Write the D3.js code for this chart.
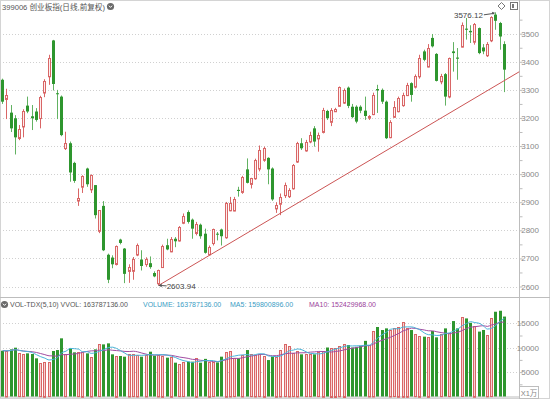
<!DOCTYPE html>
<html>
  <head>
    <meta charset="utf-8">
    <title>399006 创业板指</title>
    <script src="https://d3js.org/d3.v7.min.js"></script>
    <style>
      body {
        margin: 0;
        background-color: white;
      }
      svg text {
        font-family: "Liberation Sans", Arial, "Noto Sans CJK SC", sans-serif;
      }
    </style>
  </head>
  <body>
    <script>
      // daily candles, oldest first
      const openPrices = [3336, 3268, 3219, 3199, 3128, 3171, 3244, 3206, 3223, 3199,
        3292, 3348, 3476, 3288, 3276, 3092, 3110, 3040, 2905, 2955,
        3020, 2945, 2961, 2798, 2887, 2713, 2703, 2679, 2767, 2735,
        2657, 2657, 2713, 2696, 2681, 2683, 2648, 2610, 2669, 2747,
        2726, 2770, 2764, 2826, 2865, 2838, 2792, 2820, 2788, 2714,
        2753, 2788, 2803, 2776, 2872, 2872, 2944, 2937, 3017, 2964,
        2985, 3020, 3050, 3058, 3020, 2878, 2895, 2925, 2921, 2949,
        3044, 3110, 3086, 3116, 3163, 3127, 3151, 3225, 3187, 3225,
        3243, 3255, 3308, 3240, 3240, 3240, 3226, 3201, 3214, 3303,
        3300, 3258, 3133, 3205, 3223, 3246, 3282, 3324, 3312, 3348,
        3437, 3383, 3485, 3428, 3332, 3356, 3276, 3437, 3415, 3455,
        3518, 3510, 3472, 3520, 3451, 3423, 3475, 3568, 3538, 3463];
      const highPrices = [3340, 3304, 3246, 3210, 3175, 3231, 3276, 3246, 3235, 3279,
        3338, 3425, 3478, 3300, 3280, 3151, 3116, 3044, 2949, 2996,
        3023, 2999, 2961, 2872, 2904, 2717, 2711, 2746, 2770, 2737,
        2679, 2705, 2753, 2729, 2704, 2707, 2654, 2660, 2749, 2770,
        2776, 2776, 2815, 2860, 2871, 2842, 2830, 2824, 2806, 2746,
        2806, 2794, 2806, 2901, 2919, 2919, 2955, 2994, 3056, 2987,
        3055, 3102, 3098, 3060, 3024, 2900, 2931, 2970, 2950, 3036,
        3115, 3128, 3122, 3151, 3171, 3148, 3236, 3229, 3235, 3236,
        3312, 3305, 3312, 3250, 3245, 3245, 3276, 3210, 3290, 3318,
        3305, 3262, 3192, 3260, 3276, 3290, 3325, 3327, 3355, 3425,
        3443, 3463, 3499, 3431, 3357, 3360, 3415, 3470, 3449, 3540,
        3556, 3530, 3538, 3522, 3463, 3470, 3562, 3576.12, 3542, 3473];
      const lowPrices = [3250, 3196, 3150, 3070, 3121, 3131, 3217, 3157, 3187, 3163,
        3274, 3318, 3298, 3196, 3135, 3086, 2973, 2969, 2887, 2933,
        2955, 2933, 2842, 2790, 2726, 2612, 2665, 2675, 2750, 2612,
        2613, 2624, 2708, 2657, 2670, 2663, 2633, 2603.94, 2667, 2729,
        2722, 2740, 2760, 2822, 2824, 2770, 2782, 2770, 2717, 2711,
        2746, 2764, 2746, 2770, 2868, 2868, 2920, 2930, 2967, 2949,
        2980, 3010, 3044, 2964, 2905, 2862, 2854, 2915, 2915, 2945,
        3040, 3086, 3080, 3110, 3098, 3080, 3145, 3193, 3171, 3222,
        3240, 3250, 3235, 3199, 3181, 3217, 3193, 3193, 3210, 3218,
        3250, 3125, 3128, 3201, 3220, 3240, 3278, 3258, 3305, 3340,
        3402, 3380, 3451, 3330, 3320, 3244, 3270, 3365, 3336, 3451,
        3479, 3467, 3461, 3427, 3427, 3417, 3470, 3514, 3443, 3292];
      const closePrices = [3258, 3282, 3163, 3131, 3160, 3226, 3223, 3199, 3193, 3274,
        3333, 3413, 3321, 3286, 3139, 3110, 3006, 2976, 2914, 2993,
        2964, 2996, 2854, 2872, 2729, 2624, 2679, 2743, 2755, 2645,
        2671, 2699, 2747, 2673, 2699, 2669, 2636, 2657, 2744, 2732,
        2770, 2761, 2812, 2850, 2830, 2806, 2824, 2779, 2720, 2740,
        2803, 2785, 2779, 2898, 2898, 2913, 2940, 2990, 2969, 2985,
        3050, 3086, 3092, 3017, 2910, 2890, 2919, 2961, 2943, 3032,
        3110, 3092, 3116, 3139, 3116, 3139, 3229, 3199, 3229, 3233,
        3310, 3300, 3243, 3203, 3187, 3226, 3207, 3207, 3282, 3298,
        3258, 3128, 3187, 3240, 3270, 3282, 3318, 3282, 3350, 3413,
        3407, 3449, 3455, 3332, 3351, 3276, 3413, 3431, 3411, 3532,
        3514, 3505, 3535, 3431, 3437, 3463, 3558, 3546, 3490, 3372];
      // volume in units of 万 (x10000)
      const volumes = [9380, 9320, 9660, 10000, 8840, 8640, 8840, 8710, 7820, 6800,
        7130, 6990, 9320, 9520, 11920, 8640, 9860, 9050, 9050, 9180,
        8840, 8090, 9660, 10680, 10680, 10890, 8640, 8370, 8300, 8160,
        8710, 8640, 8500, 8160, 8500, 9180, 8370, 8500, 8370, 7960,
        8160, 6930, 6590, 6990, 7130, 7130, 7960, 6930, 7710, 7130,
        6990, 6990, 8160, 9180, 9320, 7820, 7820, 8500, 9520, 8640,
        8500, 8640, 8370, 7470, 8160, 8160, 9520, 10690, 10340, 8850,
        9320, 8640, 8640, 8640, 8640, 9050, 9380, 10040, 10040, 10040,
        10310, 10860, 10550, 10040, 10180, 10380, 11400, 10550, 13420, 14240,
        13620, 13960, 13620, 13960, 14300, 15330, 14100, 13620, 12740, 12460,
        12260, 12260, 13420, 12120, 12740, 13960, 12940, 15460, 13960, 16190,
        16000, 15100, 14500, 13300, 13630, 12571, 16010, 17370, 17570, 16379];

      const priceTicks = [2600, 2700, 2800, 2900, 3000, 3100, 3200, 3300, 3400, 3500];
      const volumeTicks = [5000, 10000, 15000];
      const highIndex = 117;
      const lowIndex = 37;
      // trend line drawn through the low and a point near the last candle
      const trendPoints = [[37, 2603.94], [119, 3333]];

      const titleText = '399006 创业板指(日线,前复权)';
      const volTitle = 'VOL-TDX(5,10) VVOL: 163787136.00';
      const volLegend = [
        {label: 'VOLUME: 163787136.00', x: 143, color: '#3a9cc4'},
        {label: 'MA5: 159800896.00', x: 230, color: '#3a9cc4'},
        {label: 'MA10: 152429968.00', x: 309, color: '#9b3f9b'}
      ];

      const w = 550;
      const h = 399;
      const plotRight = 519.5;
      const priceBottom = 297.5;
      const volBottom = 396.5;

      const upColor = '#d96666';
      const upFill = '#fdeeee';
      const upVolFill = '#f6d2d2';
      const downColor = '#2e962e';
      const downWick = '#62b262';
      const gridColor = '#d0d0d0';
      const axisColor = '#bdbdbd';
      const labelColor = '#888';

      const N = closePrices.length;
      const candles = d3.range(N).map(i => ({
        i: i,
        open: openPrices[i],
        high: highPrices[i],
        low: lowPrices[i],
        close: closePrices[i],
        vol: volumes[i],
        up: closePrices[i] >= openPrices[i]
      }));

      const xScale = d3.scaleBand()
                       .domain(d3.range(N))
                       .range([0.6, 506.4]);
      const cx = i => xScale(i) + xScale.bandwidth() / 2;
      const px = i => Math.round(cx(i) - 1.5); // left pixel of a 3px body

      const yScale = d3.scaleLinear()
                       .domain([2600, 3500])
                       .range([286.5, 33.7]);

      const vScale = d3.scaleLinear()
                       .domain([0, 15000])
                       .range([volBottom, 323.3]);

      const svg = d3.select('body')
                    .append('svg')
                    .attr('width', w)
                    .attr('height', h);

      svg.append('clipPath')
         .attr('id', 'price-clip')
         .append('rect')
         .attr('x', 0).attr('y', 0)
         .attr('width', plotRight).attr('height', priceBottom);

      // grid lines
      svg.append('g')
         .selectAll('line')
         .data(priceTicks)
         .enter()
         .append('line')
         .attr('x1', 0)
         .attr('x2', plotRight)
         .attr('y1', d => Math.round(yScale(d)) + 0.5)
         .attr('y2', d => Math.round(yScale(d)) + 0.5)
         .attr('stroke', gridColor)
         .attr('stroke-dasharray', '1,2');

      svg.append('g')
         .selectAll('line')
         .data(volumeTicks)
         .enter()
         .append('line')
         .attr('x1', 0)
         .attr('x2', plotRight)
         .attr('y1', d => Math.round(vScale(d)) + 0.5)
         .attr('y2', d => Math.round(vScale(d)) + 0.5)
         .attr('stroke', gridColor)
         .attr('stroke-dasharray', '1,2');

      // frame
      svg.append('rect')
         .attr('x', 0.5).attr('y', 0.5)
         .attr('width', w - 1).attr('height', h - 1)
         .attr('fill', 'none')
         .attr('stroke', '#d4d4d4');
      svg.append('line')
         .attr('x1', plotRight).attr('x2', plotRight)
         .attr('y1', 0).attr('y2', h)
         .attr('stroke', axisColor);
      svg.append('line')
         .attr('x1', 0).attr('x2', w)
         .attr('y1', priceBottom).attr('y2', priceBottom)
         .attr('stroke', axisColor);
      svg.append('line')
         .attr('x1', 0).attr('x2', plotRight)
         .attr('y1', volBottom + 0.5).attr('y2', volBottom + 0.5)
         .attr('stroke', axisColor);

      // right price axis
      const yAxis = d3.axisRight(yScale)
                      .tickValues(d3.range(2600, 3551, 50))
                      .tickSize(3)
                      .tickFormat(d => d % 100 === 0 ? d : '');
      const yAxisG = svg.append('g')
                        .attr('transform', `translate(${plotRight}, 0)`)
                        .call(yAxis);
      yAxisG.select('.domain').remove();
      yAxisG.selectAll('line').attr('stroke', axisColor);
      yAxisG.selectAll('text')
            .attr('x', 19.5)
            .attr('text-anchor', 'end')
            .attr('fill', labelColor)
            .style('font-size', '8px');

      const vAxis = d3.axisRight(vScale)
                      .tickValues([2500, 5000, 7500, 10000, 12500, 15000])
                      .tickSize(3)
                      .tickFormat(d => d % 5000 === 0 ? d : '');
      const vAxisG = svg.append('g')
                        .attr('transform', `translate(${plotRight}, 0)`)
                        .call(vAxis);
      vAxisG.select('.domain').remove();
      vAxisG.selectAll('line').attr('stroke', axisColor);
      vAxisG.selectAll('text')
            .attr('x', 19.5)
            .attr('text-anchor', 'end')
            .attr('fill', labelColor)
            .style('font-size', '8px');

      // candles
      const priceG = svg.append('g').attr('clip-path', 'url(#price-clip)');

      priceG.selectAll('.wick')
            .data(candles)
            .enter()
            .append('line')
            .attr('class', 'wick')
            .attr('x1', d => px(d.i) + 1.5)
            .attr('x2', d => px(d.i) + 1.5)
            .attr('y1', d => yScale(d.high))
            .attr('y2', d => yScale(d.low))
            .attr('stroke', d => d.up ? upColor : downWick);

      priceG.selectAll('.body')
            .data(candles)
            .enter()
            .append('rect')
            .attr('class', 'body')
            .attr('x', d => d.up ? px(d.i) + 0.5 : px(d.i))
            .attr('width', d => d.up ? 2 : 3)
            .attr('y', d => {
              const top = yScale(Math.max(d.open, d.close));
              return d.up ? Math.round(top) + 0.5 : top;
            })
            .attr('height', d => Math.max(1, Math.abs(yScale(d.open) - yScale(d.close))))
            .attr('fill', d => d.up ? upFill : downColor)
            .attr('stroke', d => d.up ? upColor : 'none');

      // trend line extended to the axis
      const tx0 = cx(trendPoints[0][0]);
      const ty0 = yScale(trendPoints[0][1]);
      const slope = (yScale(trendPoints[1][1]) - ty0) / (cx(trendPoints[1][0]) - tx0);
      priceG.append('line')
            .attr('x1', tx0)
            .attr('y1', ty0)
            .attr('x2', plotRight)
            .attr('y2', ty0 + slope * (plotRight - tx0))
            .attr('stroke', '#cc5555')
            .attr('stroke-width', 1);

      // high / low markers
      const hx = cx(highIndex);
      const hy = yScale(highPrices[highIndex]);
      svg.append('line')
         .attr('x1', hx - 12).attr('y1', hy + 2.5)
         .attr('x2', hx - 1.5).attr('y2', hy + 1)
         .attr('stroke', '#555');
      svg.append('path')
         .attr('d', `M${hx - 1},${hy + 0.5} l-3,-1 l1,3 z`)
         .attr('fill', '#555');
      svg.append('text')
         .attr('x', hx - 13)
         .attr('y', hy + 5.5)
         .attr('text-anchor', 'end')
         .attr('fill', '#444')
         .style('font-size', '8px')
         .text(highPrices[highIndex].toFixed(2));

      const lx = cx(lowIndex);
      const ly = yScale(lowPrices[lowIndex]);
      svg.append('line')
         .attr('x1', lx).attr('y1', ly)
         .attr('x2', lx + 8).attr('y2', ly + 0.5)
         .attr('stroke', '#555');
      svg.append('path')
         .attr('d', `M${lx},${ly} l3,-1.8 l0,3.6 z`)
         .attr('fill', '#555');
      svg.append('text')
         .attr('x', lx + 8)
         .attr('y', ly + 3.5)
         .attr('fill', '#444')
         .style('font-size', '8px')
         .text(lowPrices[lowIndex].toFixed(2));

      // volume bars
      const volG = svg.append('g');
      volG.selectAll('rect')
          .data(candles)
          .enter()
          .append('rect')
          .attr('x', d => d.up ? px(d.i) + 0.5 : px(d.i))
          .attr('width', d => d.up ? 2 : 3)
          .attr('y', d => d.up ? Math.round(vScale(d.vol)) + 0.5 : vScale(d.vol))
          .attr('height', d => volBottom - vScale(d.vol))
          .attr('fill', d => d.up ? upVolFill : downColor)
          .attr('stroke', d => d.up ? upColor : 'none');

      // moving averages of volume
      const movingAvg = n => volumes.map((v, i) => d3.mean(volumes.slice(Math.max(0, i - n + 1), i + 1)));
      const maLine = d3.line()
                       .x((d, i) => cx(i))
                       .y(d => vScale(d))
                       .curve(d3.curveMonotoneX);
      svg.append('path')
         .attr('d', maLine(movingAvg(10)))
         .attr('fill', 'none')
         .attr('stroke', '#a24ca2')
         .attr('stroke-width', 1);
      svg.append('path')
         .attr('d', maLine(movingAvg(5)))
         .attr('fill', 'none')
         .attr('stroke', '#48b3d8')
         .attr('stroke-width', 1);

      // unit box
      svg.append('rect')
         .attr('x', plotRight).attr('y', 386.5)
         .attr('width', 19).attr('height', 12)
         .attr('fill', 'white')
         .attr('stroke', axisColor);
      svg.append('text')
         .attr('x', plotRight + 9.5)
         .attr('y', 395.5)
         .attr('text-anchor', 'middle')
         .attr('fill', labelColor)
         .style('font-size', '7.5px')
         .text('X1万');

      // titles
      svg.append('text')
         .attr('x', 2)
         .attr('y', 9.5)
         .attr('fill', '#555')
         .style('font-size', '7.6px')
         .text(titleText);

      const icon = (x, y) => {
        svg.append('circle')
           .attr('cx', x).attr('cy', y).attr('r', 3.6)
           .attr('fill', '#6a6a6a');
        svg.append('path')
           .attr('d', `M${x - 1.6},${y - 0.8} L${x},${y + 0.9} L${x + 1.6},${y - 0.8}`)
           .attr('fill', 'none')
           .attr('stroke', 'white')
           .attr('stroke-width', 1);
      };
      icon(110.5, 6.5);
      icon(4.5, 304.5);

      // top right tools
      svg.append('path')
         .attr('d', 'M501.5,2.5 L505,6 L501.5,9.5 L498,6 Z')
         .attr('fill', 'none')
         .attr('stroke', '#777');
      svg.append('rect')
         .attr('x', 510.5).attr('y', 2.5)
         .attr('width', 7).attr('height', 7)
         .attr('fill', 'white')
         .attr('stroke', '#777');
      svg.append('rect')
         .attr('x', 512).attr('y', 4)
         .attr('width', 2).attr('height', 4)
         .attr('fill', '#777');

      svg.append('text')
         .attr('x', 10)
         .attr('y', 307)
         .attr('fill', '#555')
         .style('font-size', '7px')
         .text(volTitle);

      svg.selectAll('.legend')
         .data(volLegend)
         .enter()
         .append('text')
         .attr('class', 'legend')
         .attr('x', d => d.x)
         .attr('y', 307)
         .attr('fill', d => d.color)
         .style('font-size', '7px')
         .text(d => d.label);
    </script>
  </body>
</html>
